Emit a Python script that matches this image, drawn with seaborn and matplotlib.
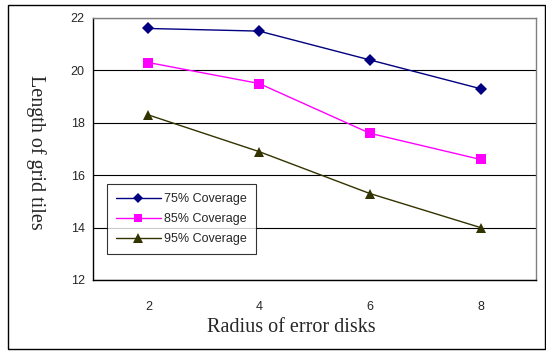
import matplotlib
matplotlib.use("Agg")
import matplotlib.pyplot as plt
import seaborn as sns
import pandas as pd
from matplotlib.patches import Rectangle

radius = ["2", "4", "6", "8"]
cov75 = [21.6, 21.5, 20.4, 19.3]
cov85 = [20.3, 19.5, 17.6, 16.6]
cov95 = [18.3, 16.9, 15.3, 14.0]
series_names = ["75% Coverage", "85% Coverage", "95% Coverage"]
yticks = [12, 14, 16, 18, 20, 22]

rows = []
for name, vals in zip(series_names, [cov75, cov85, cov95]):
    for r, v in zip(radius, vals):
        rows.append({"Radius": r, "Length": v, "Series": name})
df = pd.DataFrame(rows)

sns.set_style("white")
plt.rcParams["font.family"] = ["Liberation Sans", "DejaVu Sans"]

fig = plt.figure(figsize=(5.46, 3.52), dpi=100)
ax = fig.add_axes([93/546, 1-280/352, (536-93)/546, (280-18)/352])

palette = {"75% Coverage": "#000080", "85% Coverage": "#FF00FF", "95% Coverage": "#333300"}
markers = {"75% Coverage": "D", "85% Coverage": "s", "95% Coverage": "^"}
sns.lineplot(data=df, x="Radius", y="Length", hue="Series", style="Series",
             palette=palette, markers=markers, dashes=False,
             linewidth=1, ax=ax, sort=False, legend=True)

sizes = {"75% Coverage": 6, "85% Coverage": 6.5, "95% Coverage": 7}
for line, name in zip(ax.lines[:3], series_names):
    line.set_markersize(sizes[name])
    line.set_markeredgewidth(0)

ax.set_ylim(12, 22)
ax.set_yticks(yticks)
ax.set_xlim(-0.5, 3.5)
ax.set_xticks(range(len(radius)))
ax.set_xticklabels(radius)
ax.set_xticks([-0.5, 0.5, 1.5, 2.5, 3.5], minor=True)
ax.tick_params(axis="x", which="major", length=0, labelsize=9, pad=15)
ax.tick_params(axis="x", which="minor", length=3, width=0.8, color="black", direction="out")
ax.tick_params(axis="y", length=4, width=0.8, color="black", direction="out", labelsize=9, pad=2)
ax.yaxis.grid(True, color="black", linewidth=0.8)
ax.set_axisbelow(True)

for s in ["top", "right"]:
    ax.spines[s].set_color("#808080")
    ax.spines[s].set_linewidth(1)
for s in ["left", "bottom"]:
    ax.spines[s].set_color("black")
    ax.spines[s].set_linewidth(1)
    ax.spines[s].set_visible(True)

ax.set_xlabel("")
ax.set_ylabel("")
fig.text(291/546, 1-328/352, "Radius of error disks", family=["Liberation Serif"],
         fontsize=14.5, ha="center", va="center")
fig.text(36/546, 1-152/352, "Length of grid tiles", family=["Liberation Serif"],
         fontsize=14.5, rotation=-90, ha="center", va="center")

leg = ax.legend(loc="lower left", bbox_to_anchor=((107-93)/443, (280-254)/262),
                frameon=True, fancybox=False, edgecolor="black", fontsize=9,
                borderpad=0.7, labelspacing=0.65, handlelength=3.6, handletextpad=0.3,
                borderaxespad=0)
leg.get_frame().set_linewidth(0.8)
for h, name in zip(leg.legend_handles, series_names):
    h.set_markersize(sizes[name] - 0.5)
    h.set_markeredgewidth(0)

fig.patches.append(Rectangle((8/546, 1-349/352), (545-8)/546, (349-5)/352,
                             transform=fig.transFigure, fill=False,
                             edgecolor="black", linewidth=1))

fig.savefig("out.png", dpi=100)
